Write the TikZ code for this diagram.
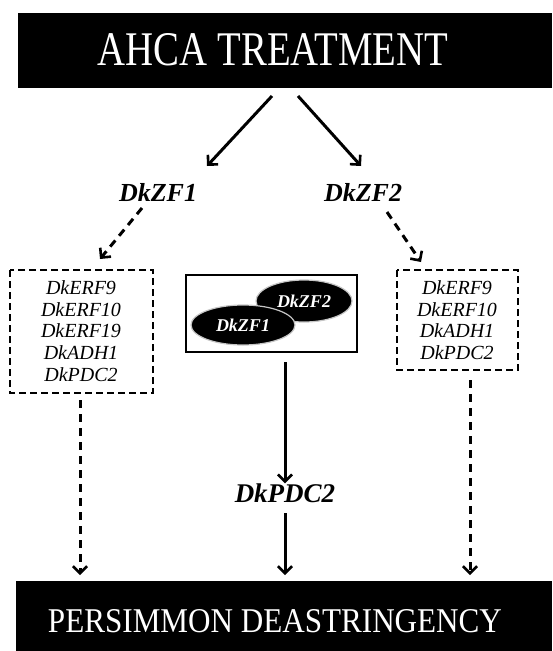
\documentclass[tikz,border=0pt]{standalone}
\usepackage{fontspec}
\setmainfont{Liberation Serif}
\usetikzlibrary{arrows.meta,shapes.geometric}
\begin{document}
\begin{tikzpicture}[x=1pt,y=-1pt,
  bar/.style={fill=black,draw=none},
  bartext/.style={text=white,inner sep=0pt},
  gene/.style={font=\fontsize{26}{30}\selectfont\bfseries\itshape,inner sep=0pt},
  listbox/.style={draw,line width=2.8pt,dash pattern=on 7pt off 4pt},
  listtext/.style={font=\fontsize{20}{21.7}\selectfont\itshape,align=center,inner sep=0pt},
  solidarr/.style={line width=3pt,-{Straight Barb[length=7pt,width=14pt,line width=2.6pt]}},
  dasharr/.style={line width=3pt,dash pattern=on 8pt off 6pt,-{Straight Barb[length=7pt,width=14pt,line width=2.6pt]}},
  blob/.style={ellipse,fill=black,draw=gray!45,line width=1.2pt,inner sep=0pt},
  blobtext/.style={text=white,font=\fontsize{18}{20}\selectfont\bfseries\itshape}]
\useasboundingbox (0,0) rectangle (552,651);
% top bar
\fill[bar] (18,13) rectangle (552,88);
\node[bartext] (top) at (273,50) {\resizebox{350pt}{32pt}{AHCA TREATMENT}};
\coordinate (t1) at (272,96);
\coordinate (t2) at (298,96);
% genes
\node[gene] (zf1) at (158,193) {DkZF1};
\node[gene] (zf2) at (363,193) {DkZF2};
\coordinate (zf1in) at (207,166);
\coordinate (zf2in) at (361,166);
\draw[solidarr] (t1) -- (zf1in);
\draw[solidarr] (t2) -- (zf2in);
% left list
\draw[listbox] (10,270) rectangle (153,393);
\node[listtext] (llist) at (81,331) {DkERF9\\DkERF10\\DkERF19\\DkADH1\\DkPDC2};
% right list
\draw[listbox] (397,270) rectangle (518,370);
\node[listtext] (rlist) at (457,320) {DkERF9\\DkERF10\\DkADH1\\DkPDC2};
% dashed arrows from genes
\coordinate (l1) at (142,208);
\coordinate (l2) at (100,259);
\coordinate (r1) at (387,212);
\coordinate (r2) at (421,262);
\draw[dasharr] (l1) -- (l2);
\draw[dasharr] (r1) -- (r2);
% center complex
\draw[line width=2.6pt] (186,275) rectangle (357,352);
\node[blob,minimum width=96pt,minimum height=42pt] (b2) at (304,301) {};
\node[blobtext] at (b2) {DkZF2};
\node[blob,minimum width=104pt,minimum height=40pt] (b1) at (243,325) {};
\node[blobtext] at (b1) {DkZF1};
% center chain
\node[gene,font=\fontsize{27}{30}\selectfont\bfseries\itshape] (pdc) at (285,493) {DkPDC2};
\coordinate (c1) at (285,362);
\coordinate (c2) at (285,513);
\coordinate (c3) at (285,575);
\draw[solidarr] (c1) -- (pdc.north);
\draw[solidarr] (c2) -- (c3);
% dashed verticals
\coordinate (lv) at (80,400);
\coordinate (lv2) at (80,575);
\coordinate (rv) at (470,380);
\coordinate (rv2) at (470,575);
\draw[dasharr] (lv) -- (lv2);
\draw[dasharr] (rv) -- (rv2);
% bottom bar
\fill[bar] (16,581) rectangle (552,651);
\node[bartext] (bot) at (275,621) {\resizebox{454pt}{23pt}{PERSIMMON DEASTRINGENCY}};
\end{tikzpicture}
\end{document}
